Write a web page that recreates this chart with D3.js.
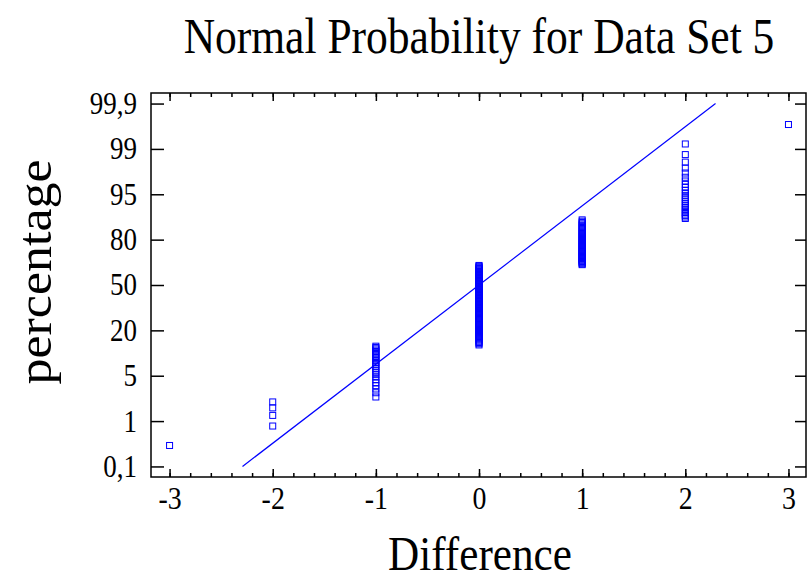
<!DOCTYPE html>
<html>
<head>
<meta charset="utf-8">
<script src="https://cdn.jsdelivr.net/npm/d3@7"></script>
<style>
  body { margin: 0; background: #fff; }
  text { font-family: "Liberation Serif", "Times New Roman", serif; fill: #000; }
</style>
</head>
<body>
<div id="canvas"></div>
<script>
"use strict"

// difference values and how many observations sit on each one
let diffValues = [-3, -2, -1, 0, 1, 2, 3];
let diffCounts = [1, 4, 25, 96, 47, 25, 1];

// axis labels; the percentage labels are spaced evenly, as in the original
let xTicks = [-3, -2, -1, 0, 1, 2, 3];
let pctLabels = ["0,1", "1", "5", "20", "50", "80", "95", "99", "99,9"];

// reference line drawn from 0,1 % to 99,9 %
let fitMean = 0;
let fitSigma = 0.742;

let width = 809, height = 581;
let plotLeft = 151, plotRight = 806, plotTop = 93, plotBottom = 477;
let squeeze = 0.87;   // the original lettering is a little narrow

/* ************ function probit (p) *****
PURPOSE:
Inverse of the standard normal distribution (Acklam's approximation)
****************************************************************** */
function probit(p) {
    let a = [-3.969683028665376e+01, 2.209460984245205e+02, -2.759285104469687e+02,
             1.383577518672690e+02, -3.066479806614716e+01, 2.506628277459239e+00];
    let b = [-5.447609879822406e+01, 1.615858368580409e+02, -1.556989798598866e+02,
             6.680131188771972e+01, -1.328068155288572e+01];
    let c = [-7.784894002430293e-03, -3.223964580411365e-01, -2.400758277161838e+00,
             -2.549732539343734e+00, 4.374664141464968e+00, 2.938163982698783e+00];
    let d = [7.784695709041462e-03, 3.224671290700398e-01, 2.445134137142996e+00,
             3.754408661907416e+00];
    let plow = 0.02425, phigh = 1 - plow, q, r;
    if (p < plow) {
        q = Math.sqrt(-2 * Math.log(p));
        return (((((c[0]*q+c[1])*q+c[2])*q+c[3])*q+c[4])*q+c[5]) /
               ((((d[0]*q+d[1])*q+d[2])*q+d[3])*q+1);
    } else if (p > phigh) {
        q = Math.sqrt(-2 * Math.log(1 - p));
        return -(((((c[0]*q+c[1])*q+c[2])*q+c[3])*q+c[4])*q+c[5]) /
                ((((d[0]*q+d[1])*q+d[2])*q+d[3])*q+1);
    }
    q = p - 0.5;
    r = q * q;
    return (((((a[0]*r+a[1])*r+a[2])*r+a[3])*r+a[4])*r+a[5])*q /
           (((((b[0]*r+b[1])*r+b[2])*r+b[3])*r+b[4])*r+1);
}

// narrow the glyphs of the tick labels
function narrow(sel) {
    sel.each(function () {
        let w = this.getComputedTextLength();
        d3.select(this)
            .attr("textLength", w * squeeze)
            .attr("lengthAdjust", "spacingAndGlyphs");
    });
}

let svg = d3.select("#canvas")
    .append("svg")
    .attr("width", width)
    .attr("height", height);

let x = d3.scaleLinear().domain([-3.18, 3.17]).range([plotLeft, plotRight]);
let y = d3.scaleLinear().domain([-3.27, 3.27]).range([plotBottom, plotTop]);

// plotting positions (Blom) for every observation
let n = d3.sum(diffCounts);
let points = [];
let rank = 0;
diffValues.forEach(function (v, i) {
    for (let k = 0; k < diffCounts[i]; k++) {
        rank++;
        points.push({ v: v, z: probit((rank - 0.375) / (n + 0.25)) });
    }
});

let zEnd = probit(0.999);
let pctPos = pctLabels.map((d, i) => -zEnd + i * 2 * zEnd / (pctLabels.length - 1));

// ticks
let minorTicks = d3.range(-15, 16).map(k => k * 0.2).filter(v => v > -3.18 && v < 3.17);

svg.append("g")
    .attr("transform", `translate(0,${plotBottom})`)
    .call(d3.axisBottom(x).tickValues(minorTicks).tickSize(-4).tickFormat(""));
svg.append("g")
    .attr("transform", `translate(0,${plotTop})`)
    .call(d3.axisTop(x).tickValues(minorTicks).tickSize(-4).tickFormat(""));

let xAxis = svg.append("g")
    .attr("transform", `translate(0,${plotBottom})`)
    .call(d3.axisBottom(x).tickValues(xTicks).tickSize(-8).tickPadding(9)
        .tickFormat(d => String(d)));
svg.append("g")
    .attr("transform", `translate(0,${plotTop})`)
    .call(d3.axisTop(x).tickValues(xTicks).tickSize(-8).tickFormat(""));

let yAxis = svg.append("g")
    .attr("transform", `translate(${plotLeft},0)`)
    .call(d3.axisLeft(y).tickValues(pctPos).tickSize(-13).tickPadding(14)
        .tickFormat((d, i) => pctLabels[i]));
svg.append("g")
    .attr("transform", `translate(${plotRight},0)`)
    .call(d3.axisRight(y).tickValues(pctPos).tickSize(-11).tickFormat(""));

svg.selectAll(".domain").remove();
svg.selectAll(".tick line").attr("stroke", "#000").attr("stroke-width", 1.5);
svg.selectAll("g").attr("font-family", null).attr("font-size", null);
xAxis.selectAll("text").style("font-size", "32px").call(narrow);
yAxis.selectAll("text").style("font-size", "31px").call(narrow);

// frame
svg.append("rect")
    .attr("x", plotLeft)
    .attr("y", plotTop)
    .attr("width", plotRight - plotLeft)
    .attr("height", plotBottom - plotTop)
    .attr("fill", "none")
    .attr("stroke", "#000")
    .attr("stroke-width", 1.5);

// reference line
svg.append("line")
    .attr("x1", x(fitMean - fitSigma * zEnd))
    .attr("y1", y(-zEnd))
    .attr("x2", x(fitMean + fitSigma * zEnd))
    .attr("y2", y(zEnd))
    .attr("stroke", "#0000ff")
    .attr("stroke-width", 1.2);

// points
svg.append("g")
    .selectAll("rect")
    .data(points)
    .enter()
    .append("rect")
    .attr("x", d => x(d.v) - 3)
    .attr("y", d => y(d.z) - 3)
    .attr("width", 6)
    .attr("height", 6)
    .attr("fill", "none")
    .attr("stroke", "#0000ff")
    .attr("stroke-width", 1);

// titles (squeezed with a transform so the boxes stay narrow too)
svg.append("text")
    .attr("transform", `translate(479,53) scale(${squeeze},1)`)
    .attr("text-anchor", "middle")
    .style("font-size", "50px")
    .text("Normal Probability for Data Set 5");

svg.append("text")
    .attr("transform", "translate(480,570) scale(0.9,1)")
    .attr("text-anchor", "middle")
    .style("font-size", "48px")
    .text("Difference");

svg.append("text")
    .attr("transform", "translate(51,272) scale(0.94,1) rotate(-90)")
    .attr("text-anchor", "middle")
    .style("font-size", "52px")
    .text("percentage");
</script>
</body>
</html>
